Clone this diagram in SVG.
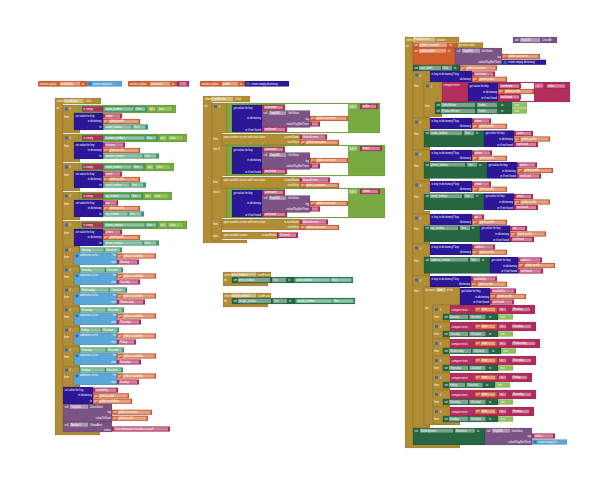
<svg xmlns="http://www.w3.org/2000/svg" width="598" height="478" viewBox="0 0 598 478">
<style>
rect,path{stroke:#000;stroke-opacity:.18;stroke-width:.5}
.bg{fill:#fff;stroke:none}
.c{fill:#b18e35}.v{fill:#d05f2d}.d{fill:#2d1799}.l{fill:#77ab41}.l2{fill:#8fc15d}.p{fill:#b32d5e}.s{fill:#266643}.g{fill:#439970}.b{fill:#5ba6d6}.m{fill:#7c5385}
.w{fill:#fff;stroke:none}
.f{fill:#fff;fill-opacity:.4;stroke:none}
.i{fill:#3d6bb3;stroke:none}
text{font-family:"Liberation Sans",Arial,sans-serif;font-size:2.6px;fill:#fff}
.e{text-anchor:end}
</style>
<rect class="bg" width="598" height="478"/>

<!-- global initializers -->
<g id="init-availability">
<rect class="v" x="38" y="81" width="49" height="5.5" rx="1"/>
<text x="39.5" y="84.7">initialize global</text>
<rect class="f" x="60" y="81.8" width="20" height="3.8"/><text x="61" y="84.7">availability</text>
<text x="82" y="84.7">to</text>
<rect class="b" x="87" y="81" width="35" height="5.5"/>
<rect class="i" x="88.5" y="82.2" width="3" height="3"/>
<text x="93" y="84.7">create empty list</text>
</g>
<g id="init-username">
<rect class="v" x="128" y="81" width="49" height="5.5" rx="1"/>
<text x="129.5" y="84.7">initialize global</text>
<rect class="f" x="150" y="81.8" width="20" height="3.8"/><text x="151" y="84.7">username</text>
<text x="172" y="84.7">to</text>
<rect class="p" x="177" y="81" width="12" height="5.5"/>
<rect class="f" x="179.5" y="81.8" width="7" height="3.8"/>
</g>
<g id="init-profile">
<rect class="v" x="200" y="81" width="45" height="5.5" rx="1"/>
<text x="201.5" y="84.7">initialize global</text>
<rect class="f" x="222" y="81.8" width="16" height="3.8"/><text x="223" y="84.7">profile</text>
<text x="240" y="84.7">to</text>
<rect class="d" x="245" y="81" width="44" height="5.5"/>
<rect class="i" x="246.5" y="82.2" width="3" height="3"/>
<text x="251" y="84.7">create empty dictionary</text>
</g>

<!-- SaveButton.Click -->
<g id="save-click">
<path class="c" d="M55 98h46v6h-38v327h37v4h-45z"/>
<text x="57" y="102">when</text>
<rect class="f" x="63.5" y="98.8" width="20" height="4.4"/><text x="64.5" y="102">SaveButton</text>
<text x="85" y="102">.Click</text>
<text x="56.5" y="109">do</text>

<g id="if-name" transform="translate(0,105)">
<path class="c" d="M63 0h17v8h-6v17h6v3h-17z"/><rect class="i" x="65" y="2.5" width="3" height="3"/>
<text x="69.5" y="5">if</text><text x="64" y="13">then</text>
<rect class="l" x="79" y="0" width="97" height="8"/>
<rect class="p" x="82" y="1.5" width="21" height="5"/><text x="83.5" y="4.8">is empty</text>
<rect class="g" x="103" y="1.5" width="44" height="5"/><rect class="f" x="104.5" y="2.3" width="29" height="3.4"/><text x="105.5" y="4.8">name_textbox</text><rect class="f" x="135" y="2.3" width="10" height="3.4"/><text x="136" y="4.8">Text</text>
<rect class="f" x="149" y="2.3" width="6" height="3.4"/><text x="150.5" y="4.8">=</text>
<rect class="l2" x="157" y="1.5" width="15" height="5"/><text x="159" y="4.8">false</text>
<rect class="d" x="74" y="8" width="29" height="17"/>
<text x="75.5" y="11.5">set value for key</text><text class="e" x="101.5" y="17">in dictionary</text><text class="e" x="101.5" y="22.5">to</text>
<rect class="p" x="103" y="8.5" width="19" height="5"/><rect class="f" x="105" y="9.3" width="15" height="3.4"/><text x="106" y="11.8">name</text>
<rect class="v" x="103" y="14" width="37" height="5"/><text x="104" y="17.3">get</text><rect class="f" x="108.5" y="14.8" width="30" height="3.4"/><text x="109.5" y="17.3">global profile</text>
<rect class="g" x="103" y="19.5" width="45" height="5"/><rect class="f" x="104.5" y="20.3" width="27" height="3.4"/><text x="105.5" y="22.8">name_textbox</text><rect class="f" x="133" y="20.3" width="12" height="3.4"/><text x="134" y="22.8">Text</text>
</g>

<g id="if-location" transform="translate(0,134)">
<path class="c" d="M63 0h17v8h-6v17h6v3h-17z"/><rect class="i" x="65" y="2.5" width="3" height="3"/>
<text x="69.5" y="5">if</text><text x="64" y="13">then</text>
<rect class="l" x="79" y="0" width="108" height="8"/>
<rect class="p" x="82" y="1.5" width="21" height="5"/><text x="83.5" y="4.8">is empty</text>
<rect class="g" x="103" y="1.5" width="55" height="5"/><rect class="f" x="104.5" y="2.3" width="40" height="3.4"/><text x="105.5" y="4.8">location_textbox</text><rect class="f" x="146" y="2.3" width="10" height="3.4"/><text x="147" y="4.8">Text</text>
<rect class="f" x="160" y="2.3" width="6" height="3.4"/><text x="161.5" y="4.8">=</text>
<rect class="l2" x="168" y="1.5" width="15" height="5"/><text x="170" y="4.8">false</text>
<rect class="d" x="74" y="8" width="29" height="17"/>
<text x="75.5" y="11.5">set value for key</text><text class="e" x="101.5" y="17">in dictionary</text><text class="e" x="101.5" y="22.5">to</text>
<rect class="p" x="103" y="8.5" width="22" height="5"/><rect class="f" x="105" y="9.3" width="18" height="3.4"/><text x="106" y="11.8">location</text>
<rect class="v" x="103" y="14" width="37" height="5"/><text x="104" y="17.3">get</text><rect class="f" x="108.5" y="14.8" width="30" height="3.4"/><text x="109.5" y="17.3">global profile</text>
<rect class="g" x="103" y="19.5" width="56" height="5"/><rect class="f" x="104.5" y="20.3" width="38" height="3.4"/><text x="105.5" y="22.8">location_textbox</text><rect class="f" x="144" y="20.3" width="12" height="3.4"/><text x="145" y="22.8">Text</text>
</g>

<g id="if-email" transform="translate(0,163)">
<path class="c" d="M63 0h17v8h-6v17h6v3h-17z"/><rect class="i" x="65" y="2.5" width="3" height="3"/>
<text x="69.5" y="5">if</text><text x="64" y="13">then</text>
<rect class="l" x="79" y="0" width="95" height="8"/>
<rect class="p" x="82" y="1.5" width="21" height="5"/><text x="83.5" y="4.8">is empty</text>
<rect class="g" x="103" y="1.5" width="42" height="5"/><rect class="f" x="104.5" y="2.3" width="27" height="3.4"/><text x="105.5" y="4.8">email_textbox</text><rect class="f" x="133" y="2.3" width="10" height="3.4"/><text x="134" y="4.8">Text</text>
<rect class="f" x="147" y="2.3" width="6" height="3.4"/><text x="148.5" y="4.8">=</text>
<rect class="l2" x="155" y="1.5" width="15" height="5"/><text x="157" y="4.8">false</text>
<rect class="d" x="74" y="8" width="29" height="17"/>
<text x="75.5" y="11.5">set value for key</text><text class="e" x="101.5" y="17">in dictionary</text><text class="e" x="101.5" y="22.5">to</text>
<rect class="p" x="103" y="8.5" width="19" height="5"/><rect class="f" x="105" y="9.3" width="15" height="3.4"/><text x="106" y="11.8">email</text>
<rect class="v" x="103" y="14" width="37" height="5"/><text x="104" y="17.3">get</text><rect class="f" x="108.5" y="14.8" width="30" height="3.4"/><text x="109.5" y="17.3">global profile</text>
<rect class="g" x="103" y="19.5" width="43" height="5"/><rect class="f" x="104.5" y="20.3" width="25" height="3.4"/><text x="105.5" y="22.8">email_textbox</text><rect class="f" x="131" y="20.3" width="12" height="3.4"/><text x="132" y="22.8">Text</text>
</g>

<g id="if-zip" transform="translate(0,192)">
<path class="c" d="M63 0h17v8h-6v17h6v3h-17z"/><rect class="i" x="65" y="2.5" width="3" height="3"/>
<text x="69.5" y="5">if</text><text x="64" y="13">then</text>
<rect class="l" x="79" y="0" width="93" height="8"/>
<rect class="p" x="82" y="1.5" width="21" height="5"/><text x="83.5" y="4.8">is empty</text>
<rect class="g" x="103" y="1.5" width="40" height="5"/><rect class="f" x="104.5" y="2.3" width="25" height="3.4"/><text x="105.5" y="4.8">zip_textbox</text><rect class="f" x="131" y="2.3" width="10" height="3.4"/><text x="132" y="4.8">Text</text>
<rect class="f" x="145" y="2.3" width="6" height="3.4"/><text x="146.5" y="4.8">=</text>
<rect class="l2" x="153" y="1.5" width="15" height="5"/><text x="155" y="4.8">false</text>
<rect class="d" x="74" y="8" width="29" height="17"/>
<text x="75.5" y="11.5">set value for key</text><text class="e" x="101.5" y="17">in dictionary</text><text class="e" x="101.5" y="22.5">to</text>
<rect class="p" x="103" y="8.5" width="15" height="5"/><rect class="f" x="105" y="9.3" width="11" height="3.4"/><text x="106" y="11.8">zip</text>
<rect class="v" x="103" y="14" width="37" height="5"/><text x="104" y="17.3">get</text><rect class="f" x="108.5" y="14.8" width="30" height="3.4"/><text x="109.5" y="17.3">global profile</text>
<rect class="g" x="103" y="19.5" width="41" height="5"/><rect class="f" x="104.5" y="20.3" width="23" height="3.4"/><text x="105.5" y="22.8">zip_textbox</text><rect class="f" x="129" y="20.3" width="12" height="3.4"/><text x="130" y="22.8">Text</text>
</g>

<g id="if-phone" transform="translate(0,221)">
<path class="c" d="M63 0h17v8h-6v17h6v3h-17z"/><rect class="i" x="65" y="2.5" width="3" height="3"/>
<text x="69.5" y="5">if</text><text x="64" y="13">then</text>
<rect class="l" x="79" y="0" width="108" height="8"/>
<rect class="p" x="82" y="1.5" width="21" height="5"/><text x="83.5" y="4.8">is empty</text>
<rect class="g" x="103" y="1.5" width="55" height="5"/><rect class="f" x="104.5" y="2.3" width="40" height="3.4"/><text x="105.5" y="4.8">phone_textbox</text><rect class="f" x="146" y="2.3" width="10" height="3.4"/><text x="147" y="4.8">Text</text>
<rect class="f" x="160" y="2.3" width="6" height="3.4"/><text x="161.5" y="4.8">=</text>
<rect class="l2" x="168" y="1.5" width="15" height="5"/><text x="170" y="4.8">false</text>
<rect class="d" x="74" y="8" width="29" height="17"/>
<text x="75.5" y="11.5">set value for key</text><text class="e" x="101.5" y="17">in dictionary</text><text class="e" x="101.5" y="22.5">to</text>
<rect class="p" x="103" y="8.5" width="19" height="5"/><rect class="f" x="105" y="9.3" width="15" height="3.4"/><text x="106" y="11.8">phone</text>
<rect class="v" x="103" y="14" width="37" height="5"/><text x="104" y="17.3">get</text><rect class="f" x="108.5" y="14.8" width="30" height="3.4"/><text x="109.5" y="17.3">global profile</text>
<rect class="g" x="103" y="19.5" width="56" height="5"/><rect class="f" x="104.5" y="20.3" width="38" height="3.4"/><text x="105.5" y="22.8">phone_textbox</text><rect class="f" x="144" y="20.3" width="12" height="3.4"/><text x="145" y="22.8">Text</text>
</g>

<g id="if-monday" transform="translate(0,247)">
<path class="c" d="M63 0h17v6h-6v12h6v2h-17z"/><rect class="i" x="65" y="1.5" width="3" height="3"/>
<text x="69.5" y="4">if</text><text x="64" y="10.5">then</text>
<rect class="g" x="79" y="0.5" width="43" height="5"/><rect class="f" x="80.5" y="1.3" width="23" height="3.4"/><text x="81.5" y="3.8">Monday</text><rect class="f" x="105" y="1.3" width="15" height="3.4"/><text x="106" y="3.8">Checked</text>
<rect class="b" x="74" y="6" width="43" height="12"/><rect class="i" x="75.5" y="7.3" width="3" height="3"/>
<text x="80" y="9.3">add items to list</text><text class="e" x="116" y="9.3">list</text><text class="e" x="116" y="15.5">item</text>
<rect class="v" x="117" y="6.5" width="39" height="5"/><text x="118" y="9.8">get</text><rect class="f" x="122.5" y="7.3" width="32" height="3.4"/><text x="123.5" y="9.8">global availability</text>
<rect class="p" x="117" y="12.5" width="22" height="5"/><rect class="f" x="119" y="13.3" width="18" height="3.4"/><text x="120" y="15.8">Monday</text>
</g>
<g id="if-tuesday" transform="translate(0,267)">
<path class="c" d="M63 0h17v6h-6v12h6v2h-17z"/><rect class="i" x="65" y="1.5" width="3" height="3"/>
<text x="69.5" y="4">if</text><text x="64" y="10.5">then</text>
<rect class="g" x="79" y="0.5" width="44" height="5"/><rect class="f" x="80.5" y="1.3" width="24" height="3.4"/><text x="81.5" y="3.8">Tuesday</text><rect class="f" x="106" y="1.3" width="15" height="3.4"/><text x="107" y="3.8">Checked</text>
<rect class="b" x="74" y="6" width="43" height="12"/><rect class="i" x="75.5" y="7.3" width="3" height="3"/>
<text x="80" y="9.3">add items to list</text><text class="e" x="116" y="9.3">list</text><text class="e" x="116" y="15.5">item</text>
<rect class="v" x="117" y="6.5" width="39" height="5"/><text x="118" y="9.8">get</text><rect class="f" x="122.5" y="7.3" width="32" height="3.4"/><text x="123.5" y="9.8">global availability</text>
<rect class="p" x="117" y="12.5" width="23" height="5"/><rect class="f" x="119" y="13.3" width="19" height="3.4"/><text x="120" y="15.8">Tuesday</text>
</g>
<g id="if-wednesday" transform="translate(0,287)">
<path class="c" d="M63 0h17v6h-6v12h6v2h-17z"/><rect class="i" x="65" y="1.5" width="3" height="3"/>
<text x="69.5" y="4">if</text><text x="64" y="10.5">then</text>
<rect class="g" x="79" y="0.5" width="48" height="5"/><rect class="f" x="80.5" y="1.3" width="28" height="3.4"/><text x="81.5" y="3.8">Wednesday</text><rect class="f" x="110" y="1.3" width="15" height="3.4"/><text x="111" y="3.8">Checked</text>
<rect class="b" x="74" y="6" width="43" height="12"/><rect class="i" x="75.5" y="7.3" width="3" height="3"/>
<text x="80" y="9.3">add items to list</text><text class="e" x="116" y="9.3">list</text><text class="e" x="116" y="15.5">item</text>
<rect class="v" x="117" y="6.5" width="39" height="5"/><text x="118" y="9.8">get</text><rect class="f" x="122.5" y="7.3" width="32" height="3.4"/><text x="123.5" y="9.8">global availability</text>
<rect class="p" x="117" y="12.5" width="28" height="5"/><rect class="f" x="119" y="13.3" width="24" height="3.4"/><text x="120" y="15.8">Wednesday</text>
</g>
<g id="if-thursday" transform="translate(0,307)">
<path class="c" d="M63 0h17v6h-6v12h6v2h-17z"/><rect class="i" x="65" y="1.5" width="3" height="3"/>
<text x="69.5" y="4">if</text><text x="64" y="10.5">then</text>
<rect class="g" x="79" y="0.5" width="45" height="5"/><rect class="f" x="80.5" y="1.3" width="25" height="3.4"/><text x="81.5" y="3.8">Thursday</text><rect class="f" x="107" y="1.3" width="15" height="3.4"/><text x="108" y="3.8">Checked</text>
<rect class="b" x="74" y="6" width="43" height="12"/><rect class="i" x="75.5" y="7.3" width="3" height="3"/>
<text x="80" y="9.3">add items to list</text><text class="e" x="116" y="9.3">list</text><text class="e" x="116" y="15.5">item</text>
<rect class="v" x="117" y="6.5" width="39" height="5"/><text x="118" y="9.8">get</text><rect class="f" x="122.5" y="7.3" width="32" height="3.4"/><text x="123.5" y="9.8">global availability</text>
<rect class="p" x="117" y="12.5" width="24" height="5"/><rect class="f" x="119" y="13.3" width="20" height="3.4"/><text x="120" y="15.8">Thursday</text>
</g>
<g id="if-friday" transform="translate(0,327)">
<path class="c" d="M63 0h17v6h-6v12h6v2h-17z"/><rect class="i" x="65" y="1.5" width="3" height="3"/>
<text x="69.5" y="4">if</text><text x="64" y="10.5">then</text>
<rect class="g" x="79" y="0.5" width="40" height="5"/><rect class="f" x="80.5" y="1.3" width="20" height="3.4"/><text x="81.5" y="3.8">Friday</text><rect class="f" x="102" y="1.3" width="15" height="3.4"/><text x="103" y="3.8">Checked</text>
<rect class="b" x="74" y="6" width="43" height="12"/><rect class="i" x="75.5" y="7.3" width="3" height="3"/>
<text x="80" y="9.3">add items to list</text><text class="e" x="116" y="9.3">list</text><text class="e" x="116" y="15.5">item</text>
<rect class="v" x="117" y="6.5" width="39" height="5"/><text x="118" y="9.8">get</text><rect class="f" x="122.5" y="7.3" width="32" height="3.4"/><text x="123.5" y="9.8">global availability</text>
<rect class="p" x="117" y="12.5" width="19" height="5"/><rect class="f" x="119" y="13.3" width="15" height="3.4"/><text x="120" y="15.8">Friday</text>
</g>
<g id="if-saturday" transform="translate(0,347)">
<path class="c" d="M63 0h17v6h-6v12h6v2h-17z"/><rect class="i" x="65" y="1.5" width="3" height="3"/>
<text x="69.5" y="4">if</text><text x="64" y="10.5">then</text>
<rect class="g" x="79" y="0.5" width="45" height="5"/><rect class="f" x="80.5" y="1.3" width="25" height="3.4"/><text x="81.5" y="3.8">Saturday</text><rect class="f" x="107" y="1.3" width="15" height="3.4"/><text x="108" y="3.8">Checked</text>
<rect class="b" x="74" y="6" width="43" height="12"/><rect class="i" x="75.5" y="7.3" width="3" height="3"/>
<text x="80" y="9.3">add items to list</text><text class="e" x="116" y="9.3">list</text><text class="e" x="116" y="15.5">item</text>
<rect class="v" x="117" y="6.5" width="39" height="5"/><text x="118" y="9.8">get</text><rect class="f" x="122.5" y="7.3" width="32" height="3.4"/><text x="123.5" y="9.8">global availability</text>
<rect class="p" x="117" y="12.5" width="24" height="5"/><rect class="f" x="119" y="13.3" width="20" height="3.4"/><text x="120" y="15.8">Saturday</text>
</g>
<g id="if-sunday" transform="translate(0,367)">
<path class="c" d="M63 0h17v6h-6v12h6v2h-17z"/><rect class="i" x="65" y="1.5" width="3" height="3"/>
<text x="69.5" y="4">if</text><text x="64" y="10.5">then</text>
<rect class="g" x="79" y="0.5" width="44" height="5"/><rect class="f" x="80.5" y="1.3" width="24" height="3.4"/><text x="81.5" y="3.8">Sunday</text><rect class="f" x="106" y="1.3" width="15" height="3.4"/><text x="107" y="3.8">Checked</text>
<rect class="b" x="74" y="6" width="43" height="12"/><rect class="i" x="75.5" y="7.3" width="3" height="3"/>
<text x="80" y="9.3">add items to list</text><text class="e" x="116" y="9.3">list</text><text class="e" x="116" y="15.5">item</text>
<rect class="v" x="117" y="6.5" width="39" height="5"/><text x="118" y="9.8">get</text><rect class="f" x="122.5" y="7.3" width="32" height="3.4"/><text x="123.5" y="9.8">global availability</text>
<rect class="p" x="117" y="12.5" width="22" height="5"/><rect class="f" x="119" y="13.3" width="18" height="3.4"/><text x="120" y="15.8">Sunday</text>
</g>

<g id="set-availability">
<rect class="d" x="63" y="387" width="30" height="17"/>
<text x="64.5" y="390.5">set value for key</text><text class="e" x="92" y="396.3">in dictionary</text><text class="e" x="92" y="402">to</text>
<rect class="p" x="93" y="387.7" width="25" height="5"/><rect class="f" x="95" y="388.5" width="21" height="3.4"/><text x="96" y="391">availability</text>
<rect class="v" x="93" y="393.3" width="36" height="5"/><text x="94" y="396.6">get</text><rect class="f" x="98.5" y="394.1" width="29" height="3.4"/><text x="99.5" y="396.6">global profile</text>
<rect class="v" x="93" y="398.8" width="39" height="5"/><text x="94" y="402.1">get</text><rect class="f" x="98.5" y="399.6" width="32" height="3.4"/><text x="99.5" y="402.1">global availability</text>
</g>
<g id="store-value">
<rect class="m" x="63" y="404" width="49" height="18"/>
<text x="64.5" y="407.8">call</text><rect class="f" x="70" y="404.8" width="18" height="4"/><text x="71" y="407.8">TinyDB1</text><text x="89.5" y="407.8">.StoreValue</text>
<text class="e" x="111" y="413.3">tag</text><text class="e" x="111" y="419.3">valueToStore</text>
<rect class="v" x="112" y="409.8" width="40" height="5"/><text x="113" y="413.1">get</text><rect class="f" x="117.5" y="410.6" width="33" height="3.4"/><text x="118.5" y="413.1">global username</text>
<rect class="v" x="112" y="415.8" width="36" height="5"/><text x="113" y="419.1">get</text><rect class="f" x="117.5" y="416.6" width="29" height="3.4"/><text x="118.5" y="419.1">global profile</text>
</g>
<g id="show-alert">
<rect class="m" x="63" y="422" width="49" height="10"/>
<text x="64.5" y="425.6">call</text><rect class="f" x="70" y="422.7" width="18" height="4"/><text x="71" y="425.6">Notifier1</text><text x="89.5" y="425.6">.ShowAlert</text>
<text class="e" x="111" y="430.6">notice</text>
<rect class="p" x="112" y="426.5" width="58" height="5"/><rect class="f" x="114" y="427.3" width="54" height="3.4"/><text x="115" y="429.8">Your information has been saved!</text>
</g>
</g>

<!-- LoginButton.Click -->
<g id="login-click">
<path class="c" d="M203 96h47v6h-38v138h35v3h-44z"/>
<text x="205" y="100">when</text>
<rect class="f" x="211" y="96.8" width="22" height="4.4"/><text x="212" y="100">LoginButton</text>
<text x="235" y="100">.Click</text>
<text x="204.5" y="107">do</text>
<path class="c" d="M212 103h15v30h-5v12h5v31h-5v12h5v30h-5v22h-10z"/>
<rect class="i" x="214" y="105" width="3" height="3"/>
<text x="219" y="108">if</text>
<text x="213" y="139.5">then</text><text x="213" y="150">else if</text>
<text x="213" y="182.5">then</text><text x="213" y="193">else if</text>
<text x="213" y="224.5">then</text><text x="213" y="236.5">else</text>

<g id="cmp-seller" transform="translate(0,103)">
<rect class="l" x="227" y="0" width="153" height="30"/>
<rect class="w" x="285" y="1" width="63" height="28"/>
<rect class="d" x="232" y="2" width="30" height="27"/>
<text x="233.5" y="5.5">get value for key</text><text class="e" x="261" y="16">in dictionary</text><text class="e" x="261" y="27.5">or if not found</text>
<rect class="p" x="262" y="2" width="23" height="5"/><rect class="f" x="264" y="2.8" width="19" height="3.4"/><text x="265" y="5.3">username</text>
<rect class="m" x="262" y="7.5" width="48" height="17"/>
<text x="263.5" y="11">call</text><rect class="f" x="269" y="8.3" width="17" height="3.6"/><text x="270" y="11">TinyDB1</text><text x="287.5" y="11">.GetValue</text>
<text class="e" x="309" y="16.8">tag</text><text class="e" x="309" y="22.3">valueIfTagNotThere</text>
<rect class="v" x="310" y="13" width="38" height="5"/><text x="311" y="16.3">get</text><rect class="f" x="315.5" y="13.8" width="31" height="3.4"/><text x="316.5" y="16.3">global username</text>
<rect class="p" x="310" y="18.5" width="10" height="5"/><rect class="f" x="312" y="19.3" width="6" height="3.4"/>
<rect class="p" x="262" y="24" width="25" height="5"/><rect class="f" x="264" y="24.8" width="21" height="3.4"/><text x="265" y="27.3">not found</text>
<rect class="f" x="349" y="1.5" width="8" height="4"/><text x="351.5" y="4.5">=</text>
<rect class="p" x="360" y="1" width="18" height="5"/><rect class="f" x="362" y="1.8" width="14" height="3.4"/><text x="363" y="4.3">seller</text>
</g>
<g id="cmp-buyer" transform="translate(0,145)">
<rect class="l" x="227" y="0" width="158" height="31"/>
<rect class="w" x="285" y="1" width="63" height="29"/>
<rect class="d" x="232" y="2" width="30" height="27"/>
<text x="233.5" y="5.5">get value for key</text><text class="e" x="261" y="16">in dictionary</text><text class="e" x="261" y="27.5">or if not found</text>
<rect class="p" x="262" y="2" width="23" height="5"/><rect class="f" x="264" y="2.8" width="19" height="3.4"/><text x="265" y="5.3">username</text>
<rect class="m" x="262" y="7.5" width="48" height="17"/>
<text x="263.5" y="11">call</text><rect class="f" x="269" y="8.3" width="17" height="3.6"/><text x="270" y="11">TinyDB1</text><text x="287.5" y="11">.GetValue</text>
<text class="e" x="309" y="16.8">tag</text><text class="e" x="309" y="22.3">valueIfTagNotThere</text>
<rect class="v" x="310" y="13" width="38" height="5"/><text x="311" y="16.3">get</text><rect class="f" x="315.5" y="13.8" width="31" height="3.4"/><text x="316.5" y="16.3">global username</text>
<rect class="p" x="310" y="18.5" width="10" height="5"/><rect class="f" x="312" y="19.3" width="6" height="3.4"/>
<rect class="p" x="262" y="24" width="25" height="5"/><rect class="f" x="264" y="24.8" width="21" height="3.4"/><text x="265" y="27.3">not found</text>
<rect class="f" x="349" y="1.5" width="8" height="4"/><text x="351.5" y="4.5">=</text>
<rect class="p" x="360" y="1" width="22" height="5"/><rect class="f" x="362" y="1.8" width="18" height="3.4"/><text x="363" y="4.3">buyer</text>
</g>
<g id="cmp-admin" transform="translate(0,188)">
<rect class="l" x="227" y="0" width="158" height="30"/>
<rect class="w" x="285" y="1" width="63" height="28"/>
<rect class="d" x="232" y="2" width="30" height="27"/>
<text x="233.5" y="5.5">get value for key</text><text class="e" x="261" y="16">in dictionary</text><text class="e" x="261" y="27.5">or if not found</text>
<rect class="p" x="262" y="2" width="23" height="5"/><rect class="f" x="264" y="2.8" width="19" height="3.4"/><text x="265" y="5.3">username</text>
<rect class="m" x="262" y="7.5" width="48" height="17"/>
<text x="263.5" y="11">call</text><rect class="f" x="269" y="8.3" width="17" height="3.6"/><text x="270" y="11">TinyDB1</text><text x="287.5" y="11">.GetValue</text>
<text class="e" x="309" y="16.8">tag</text><text class="e" x="309" y="22.3">valueIfTagNotThere</text>
<rect class="v" x="310" y="13" width="38" height="5"/><text x="311" y="16.3">get</text><rect class="f" x="315.5" y="13.8" width="31" height="3.4"/><text x="316.5" y="16.3">global username</text>
<rect class="p" x="310" y="18.5" width="10" height="5"/><rect class="f" x="312" y="19.3" width="6" height="3.4"/>
<rect class="p" x="262" y="24" width="25" height="5"/><rect class="f" x="264" y="24.8" width="21" height="3.4"/><text x="265" y="27.3">not found</text>
<rect class="f" x="349" y="1.5" width="8" height="4"/><text x="351.5" y="4.5">=</text>
<rect class="p" x="360" y="1" width="20" height="5"/><rect class="f" x="362" y="1.8" width="16" height="3.4"/><text x="363" y="4.3">admin</text>
</g>

<g id="open-seller" transform="translate(0,134)">
<rect class="c" x="222" y="0" width="78" height="11"/>
<text x="223.5" y="3.8">open another screen with start value</text><text class="e" x="299" y="3.8">screenName</text><text class="e" x="299" y="9.3">startValue</text>
<rect class="p" x="300" y="0.5" width="27" height="5"/><rect class="f" x="302" y="1.3" width="23" height="3.4"/><text x="303" y="3.8">SellerScreen</text>
<rect class="v" x="300" y="6" width="39" height="5"/><text x="301" y="9.3">get</text><rect class="f" x="305.5" y="6.8" width="32" height="3.4"/><text x="306.5" y="9.3">global username</text>
</g>
<g id="open-buyer" transform="translate(0,177)">
<rect class="c" x="222" y="0" width="78" height="11"/>
<text x="223.5" y="3.8">open another screen with start value</text><text class="e" x="299" y="3.8">screenName</text><text class="e" x="299" y="9.3">startValue</text>
<rect class="p" x="300" y="0.5" width="30" height="5"/><rect class="f" x="302" y="1.3" width="26" height="3.4"/><text x="303" y="3.8">BuyerScreen</text>
<rect class="v" x="300" y="6" width="39" height="5"/><text x="301" y="9.3">get</text><rect class="f" x="305.5" y="6.8" width="32" height="3.4"/><text x="306.5" y="9.3">global username</text>
</g>
<g id="open-admin" transform="translate(0,219)">
<rect class="c" x="222" y="0" width="78" height="11"/>
<text x="223.5" y="3.8">open another screen with start value</text><text class="e" x="299" y="3.8">screenName</text><text class="e" x="299" y="9.3">startValue</text>
<rect class="p" x="300" y="0.5" width="28" height="5"/><rect class="f" x="302" y="1.3" width="24" height="3.4"/><text x="303" y="3.8">AdminScreen</text>
<rect class="v" x="300" y="6" width="39" height="5"/><text x="301" y="9.3">get</text><rect class="f" x="305.5" y="6.8" width="32" height="3.4"/><text x="306.5" y="9.3">global username</text>
</g>
<g id="open-screen1">
<rect class="c" x="222" y="232" width="56" height="7"/>
<text x="223.5" y="236.3">open another screen</text><text class="e" x="276.5" y="236.3">screenName</text>
<rect class="p" x="277" y="232.5" width="21" height="5.5"/><rect class="f" x="279" y="233.4" width="17" height="3.6"/><text x="280" y="236.1">Screen1</text>
</g>
</g>

<!-- LostFocus handlers -->
<g id="price-lostfocus">
<path class="c" d="M223 272h48v5h-39v6h36v3h-45z"/>
<text x="224.5" y="275.8">when</text>
<rect class="f" x="231" y="272.6" width="25" height="3.8"/><text x="232" y="275.5">price_textbox</text>
<text x="257.5" y="275.8">.LostFocus</text>
<text x="224" y="281">do</text>
<rect class="s" x="232" y="277" width="121" height="6"/>
<text x="233.5" y="281">set</text>
<rect class="f" x="238" y="277.8" width="32" height="4.4"/><text x="239" y="281">price_textbox</text>
<rect class="f" x="272" y="277.8" width="14" height="4.4"/><text x="273" y="281">Text</text>
<text x="288" y="281">to</text>
<rect class="g" x="294" y="277.5" width="59" height="5"/>
<rect class="f" x="295.5" y="278.3" width="34" height="3.4"/><text x="296.5" y="280.8">price_textbox</text>
<rect class="f" x="331" y="278.3" width="20" height="3.4"/><text x="332" y="280.8">Text</text>
</g>
<g id="weight-lostfocus" transform="translate(0,21)">
<path class="c" d="M223 272h48v5h-39v6h36v3h-45z"/>
<text x="224.5" y="275.8">when</text>
<rect class="f" x="231" y="272.6" width="25" height="3.8"/><text x="232" y="275.5">weight_textbox</text>
<text x="257.5" y="275.8">.LostFocus</text>
<text x="224" y="281">do</text>
<rect class="s" x="232" y="277" width="123" height="6"/>
<text x="233.5" y="281">set</text>
<rect class="f" x="238" y="277.8" width="33" height="4.4"/><text x="239" y="281">weight_textbox</text>
<rect class="f" x="273" y="277.8" width="14" height="4.4"/><text x="274" y="281">Text</text>
<text x="289" y="281">to</text>
<rect class="g" x="295" y="277.5" width="60" height="5"/>
<rect class="f" x="296.5" y="278.3" width="35" height="3.4"/><text x="297.5" y="280.8">weight_textbox</text>
<rect class="f" x="333" y="278.3" width="20" height="3.4"/><text x="334" y="280.8">Text</text>
</g>

<!-- standalone call -->
<g id="clear-all">
<rect class="m" x="513" y="37" width="44" height="6"/>
<text x="514.5" y="41">call</text>
<rect class="f" x="520" y="37.8" width="20" height="4.4"/><text x="521" y="41">TinyDB1</text>
<text x="541.5" y="41">.ClearAll</text>
</g>

<!-- ProfileScreen.Initialize -->
<g id="profile-initialize">
<path class="c" d="M405 37h54v5h-46v402h47v4h-55z"/>
<text x="406.5" y="40.5">when</text>
<rect class="f" x="413" y="37.6" width="22" height="3.8"/><text x="414" y="40.3">ProfileScreen</text>
<text x="436" y="40.5">.Initialize</text>
<text x="406" y="46.5">do</text>

<rect class="v" x="413" y="42.5" width="44" height="5.5"/>
<text x="414.5" y="46">set</text><rect class="f" x="419" y="43.2" width="28" height="4"/><text x="420" y="46">global username</text><text x="449.5" y="46">to</text>
<rect class="c" x="457" y="42.5" width="26" height="5.5"/><text x="458.5" y="46">get start value</text>

<rect class="v" x="413" y="48" width="42" height="17"/>
<text x="414.5" y="51.5">set</text><rect class="f" x="419" y="48.8" width="27" height="4"/><text x="420" y="51.5">global profile</text><text x="448" y="51.5">to</text>
<rect class="m" x="455" y="48" width="47" height="17"/>
<text x="456.5" y="51.5">call</text><rect class="f" x="462" y="48.8" width="18" height="4"/><text x="463" y="51.5">TinyDB1</text><text x="481" y="51.5">.GetValue</text>
<text class="e" x="501" y="57.5">tag</text><text class="e" x="501" y="63">valueIfTagNotThere</text>
<rect class="v" x="502" y="54" width="38" height="5"/><text x="503" y="57.3">get</text><rect class="f" x="507.5" y="54.8" width="31" height="3.4"/><text x="508.5" y="57.3">global username</text>
<rect class="d" x="502" y="59.8" width="44" height="5"/><rect class="i" x="503.5" y="60.8" width="3" height="3"/><text x="508" y="63.1">create empty dictionary</text>

<rect class="s" x="413" y="65" width="47" height="6"/>
<text x="414.5" y="69">set</text><rect class="f" x="419" y="65.8" width="22" height="4.4"/><text x="420" y="69">user_label</text>
<rect class="f" x="442" y="65.8" width="10" height="4.4"/><text x="443" y="69">Text</text><text x="454" y="69">to</text>
<rect class="v" x="460" y="65.5" width="37" height="5"/><text x="461" y="68.8">get</text><rect class="f" x="465.5" y="66.3" width="30" height="3.4"/><text x="466.5" y="68.8">global username</text>

<!-- if username -->
<g id="if-key-username" transform="translate(0,71)">
<path class="c" d="M413 0h17v11h-6v33h6v3h-17z"/><rect class="i" x="415" y="2.5" width="3" height="3"/>
<text x="420" y="5.5">if</text><text x="414" y="15.5">then</text>
<rect class="d" x="430" y="0" width="42" height="11"/>
<text x="431.5" y="3.8">is key in dictionary? key</text><text class="e" x="471" y="9.3">dictionary</text>
<rect class="p" x="472" y="0.5" width="23" height="5"/><rect class="f" x="474" y="1.3" width="19" height="3.4"/><text x="475" y="3.8">username</text>
<rect class="v" x="472" y="5.8" width="35" height="5"/><text x="473" y="9.1">get</text><rect class="f" x="478.5" y="6.6" width="27" height="3.4"/><text x="479.5" y="9.1">global profile</text>
</g>
<g id="if-seller" transform="translate(0,82)">
<path class="c" d="M424 0h18v20h-7v12h7v3h-18z"/><rect class="i" x="426" y="2.5" width="3" height="3"/>
<text x="431" y="5.5">if</text><text x="425" y="24.5">then</text>
<rect class="p" x="442" y="0" width="128" height="20"/>
<text x="443.5" y="3.8">compare texts</text>
<rect class="w" x="520" y="1" width="14" height="18"/>
<rect class="d" x="468" y="1" width="30" height="18"/>
<text x="469.5" y="4.5">get value for key</text><text class="e" x="497" y="10.5">in dictionary</text><text class="e" x="497" y="16.5">or if not found</text>
<rect class="p" x="498" y="1.5" width="23" height="5"/><rect class="f" x="500" y="2.3" width="19" height="3.4"/><text x="501" y="4.8">username</text>
<rect class="v" x="498" y="7" width="36" height="5"/><text x="499" y="10.3">get</text><rect class="f" x="504.5" y="7.8" width="28" height="3.4"/><text x="505.5" y="10.3">global profile</text>
<rect class="p" x="498" y="12.5" width="23" height="5"/><rect class="f" x="500" y="13.3" width="19" height="3.4"/><text x="501" y="15.8">not found</text>
<rect class="f" x="535" y="1.7" width="8" height="4"/><text x="537.5" y="4.7">=</text>
<rect class="p" x="545" y="1.5" width="22" height="5"/><rect class="f" x="547" y="2.3" width="18" height="3.4"/><text x="548" y="4.8">seller</text>
<rect class="s" x="435" y="20" width="77" height="6"/>
<text x="436.5" y="24">set</text><rect class="f" x="441" y="20.8" width="34" height="4.4"/><text x="442" y="24">SellerButton</text>
<rect class="f" x="477" y="20.8" width="20" height="4.4"/><text x="478" y="24">Visible</text><text x="501" y="24">to</text>
<rect class="l2" x="512" y="20.5" width="15" height="5"/><text x="514.5" y="23.8">true</text>
<rect class="s" x="435" y="26" width="77" height="6"/>
<text x="436.5" y="30">set</text><rect class="f" x="441" y="26.8" width="34" height="4.4"/><text x="442" y="30">ProductsButton</text>
<rect class="f" x="477" y="26.8" width="20" height="4.4"/><text x="478" y="30">Visible</text><text x="501" y="30">to</text>
<rect class="l2" x="512" y="26.5" width="15" height="5"/><text x="514.5" y="29.8">true</text>
</g>

<!-- if name -->
<g id="if-key-name" transform="translate(0,118)">
<path class="c" d="M413 0h17v12h-6v17h6v3h-17z"/><rect class="i" x="415" y="2.5" width="3" height="3"/>
<text x="420" y="5.5">if</text><text x="414" y="16.5">then</text>
<rect class="d" x="430" y="0" width="42" height="11"/>
<text x="431.5" y="3.8">is key in dictionary? key</text><text class="e" x="471" y="9.3">dictionary</text>
<rect class="p" x="472" y="0.5" width="19" height="5"/><rect class="f" x="474" y="1.3" width="15" height="3.4"/><text x="475" y="3.8">name</text>
<rect class="v" x="472" y="5.8" width="35" height="5"/><text x="473" y="9.1">get</text><rect class="f" x="478.5" y="6.6" width="27" height="3.4"/><text x="479.5" y="9.1">global profile</text>
<g transform="translate(0,12.5)">
<rect class="s" x="424" y="0" width="60" height="16.5"/>
<text x="425.5" y="3.6">set</text><rect class="f" x="430" y="0.8" width="32" height="3.8"/><text x="431" y="3.6">name_textbox</text>
<rect class="f" x="464" y="0.8" width="10" height="3.8"/><text x="465" y="3.6">Text</text><text x="476" y="3.6">to</text>
<rect class="d" x="484" y="0" width="30" height="16.5"/>
<text x="485.5" y="3.6">get value for key</text><text class="e" x="513" y="9.5">in dictionary</text><text class="e" x="513" y="15">or if not found</text>
<rect class="p" x="514" y="0.5" width="19" height="5"/><rect class="f" x="516" y="1.3" width="15" height="3.4"/><text x="517" y="3.8">name</text>
<rect class="v" x="514" y="6" width="36" height="5"/><text x="515" y="9.3">get</text><rect class="f" x="520.5" y="6.8" width="28" height="3.4"/><text x="521.5" y="9.3">global profile</text>
<rect class="p" x="514" y="11.5" width="24" height="5"/><rect class="f" x="516" y="12.3" width="20" height="3.4"/><text x="517" y="14.8">not found</text>
</g>
</g>

<!-- if phone -->
<g id="if-key-phone" transform="translate(0,150)">
<path class="c" d="M413 0h17v12h-6v16h6v3h-17z"/><rect class="i" x="415" y="2.5" width="3" height="3"/>
<text x="420" y="5.5">if</text><text x="414" y="16.5">then</text>
<rect class="d" x="430" y="0" width="42" height="11"/>
<text x="431.5" y="3.8">is key in dictionary? key</text><text class="e" x="471" y="9.3">dictionary</text>
<rect class="p" x="472" y="0.5" width="20" height="5"/><rect class="f" x="474" y="1.3" width="16" height="3.4"/><text x="475" y="3.8">phone</text>
<rect class="v" x="472" y="5.8" width="35" height="5"/><text x="473" y="9.1">get</text><rect class="f" x="478.5" y="6.6" width="27" height="3.4"/><text x="479.5" y="9.1">global profile</text>
<g transform="translate(0,12)">
<rect class="s" x="424" y="0" width="63" height="16.5"/>
<text x="425.5" y="3.6">set</text><rect class="f" x="430" y="0.8" width="35" height="3.8"/><text x="431" y="3.6">phone_textbox</text>
<rect class="f" x="467" y="0.8" width="10" height="3.8"/><text x="468" y="3.6">Text</text><text x="479" y="3.6">to</text>
<rect class="d" x="487" y="0" width="30" height="16.5"/>
<text x="488.5" y="3.6">get value for key</text><text class="e" x="516" y="9.5">in dictionary</text><text class="e" x="516" y="15">or if not found</text>
<rect class="p" x="517" y="0.5" width="20" height="5"/><rect class="f" x="519" y="1.3" width="16" height="3.4"/><text x="520" y="3.8">phone</text>
<rect class="v" x="517" y="6" width="36" height="5"/><text x="518" y="9.3">get</text><rect class="f" x="523.5" y="6.8" width="28" height="3.4"/><text x="524.5" y="9.3">global profile</text>
<rect class="p" x="517" y="11.5" width="24" height="5"/><rect class="f" x="519" y="12.3" width="20" height="3.4"/><text x="520" y="14.8">not found</text>
</g>
</g>

<!-- if email -->
<g id="if-key-email" transform="translate(0,181)">
<path class="c" d="M413 0h17v12h-6v18h6v3h-17z"/><rect class="i" x="415" y="2.5" width="3" height="3"/>
<text x="420" y="5.5">if</text><text x="414" y="16.5">then</text>
<rect class="d" x="430" y="0" width="42" height="11"/>
<text x="431.5" y="3.8">is key in dictionary? key</text><text class="e" x="471" y="9.3">dictionary</text>
<rect class="p" x="472" y="0.5" width="19" height="5"/><rect class="f" x="474" y="1.3" width="15" height="3.4"/><text x="475" y="3.8">email</text>
<rect class="v" x="472" y="5.8" width="35" height="5"/><text x="473" y="9.1">get</text><rect class="f" x="478.5" y="6.6" width="27" height="3.4"/><text x="479.5" y="9.1">global profile</text>
<g transform="translate(0,12.5)">
<rect class="s" x="424" y="0" width="60" height="16.5"/>
<text x="425.5" y="3.6">set</text><rect class="f" x="430" y="0.8" width="32" height="3.8"/><text x="431" y="3.6">email_textbox</text>
<rect class="f" x="464" y="0.8" width="10" height="3.8"/><text x="465" y="3.6">Text</text><text x="476" y="3.6">to</text>
<rect class="d" x="484" y="0" width="30" height="16.5"/>
<text x="485.5" y="3.6">get value for key</text><text class="e" x="513" y="9.5">in dictionary</text><text class="e" x="513" y="15">or if not found</text>
<rect class="p" x="514" y="0.5" width="19" height="5"/><rect class="f" x="516" y="1.3" width="15" height="3.4"/><text x="517" y="3.8">email</text>
<rect class="v" x="514" y="6" width="36" height="5"/><text x="515" y="9.3">get</text><rect class="f" x="520.5" y="6.8" width="28" height="3.4"/><text x="521.5" y="9.3">global profile</text>
<rect class="p" x="514" y="11.5" width="24" height="5"/><rect class="f" x="516" y="12.3" width="20" height="3.4"/><text x="517" y="14.8">not found</text>
</g>
</g>

<!-- if zip -->
<g id="if-key-zip" transform="translate(0,214)">
<path class="c" d="M413 0h17v11h-6v16h6v3h-17z"/><rect class="i" x="415" y="2.5" width="3" height="3"/>
<text x="420" y="5.5">if</text><text x="414" y="15.5">then</text>
<rect class="d" x="430" y="0" width="42" height="11"/>
<text x="431.5" y="3.8">is key in dictionary? key</text><text class="e" x="471" y="9.3">dictionary</text>
<rect class="p" x="472" y="0.5" width="12" height="5"/><rect class="f" x="474" y="1.3" width="8" height="3.4"/><text x="474.5" y="3.8">zip</text>
<rect class="v" x="472" y="5.8" width="35" height="5"/><text x="473" y="9.1">get</text><rect class="f" x="478.5" y="6.6" width="27" height="3.4"/><text x="479.5" y="9.1">global profile</text>
<g transform="translate(0,11.5)">
<rect class="s" x="424" y="0" width="56" height="16.5"/>
<text x="425.5" y="3.6">set</text><rect class="f" x="430" y="0.8" width="28" height="3.8"/><text x="431" y="3.6">zip_textbox</text>
<rect class="f" x="460" y="0.8" width="10" height="3.8"/><text x="461" y="3.6">Text</text><text x="472" y="3.6">to</text>
<rect class="d" x="480" y="0" width="30" height="16.5"/>
<text x="481.5" y="3.6">get value for key</text><text class="e" x="509" y="9.5">in dictionary</text><text class="e" x="509" y="15">or if not found</text>
<rect class="p" x="510" y="0.5" width="17" height="5"/><rect class="f" x="512" y="1.3" width="13" height="3.4"/><text x="513" y="3.8">zip</text>
<rect class="v" x="510" y="6" width="36" height="5"/><text x="511" y="9.3">get</text><rect class="f" x="516.5" y="6.8" width="28" height="3.4"/><text x="517.5" y="9.3">global profile</text>
<rect class="p" x="510" y="11.5" width="24" height="5"/><rect class="f" x="512" y="12.3" width="20" height="3.4"/><text x="513" y="14.8">not found</text>
</g>
</g>

<!-- if address -->
<g id="if-key-address" transform="translate(0,244)">
<path class="c" d="M413 0h17v13h-6v16h6v3h-17z"/><rect class="i" x="415" y="2.5" width="3" height="3"/>
<text x="420" y="5.5">if</text><text x="414" y="17.5">then</text>
<rect class="d" x="430" y="0" width="42" height="11"/>
<text x="431.5" y="3.8">is key in dictionary? key</text><text class="e" x="471" y="9.3">dictionary</text>
<rect class="p" x="472" y="0.5" width="23" height="5"/><rect class="f" x="474" y="1.3" width="19" height="3.4"/><text x="475" y="3.8">address</text>
<rect class="v" x="472" y="5.8" width="35" height="5"/><text x="473" y="9.1">get</text><rect class="f" x="478.5" y="6.6" width="27" height="3.4"/><text x="479.5" y="9.1">global profile</text>
<g transform="translate(0,13)">
<rect class="s" x="424" y="0" width="66" height="16.5"/>
<text x="425.5" y="3.6">set</text><rect class="f" x="430" y="0.8" width="38" height="3.8"/><text x="431" y="3.6">address_textbox</text>
<rect class="f" x="470" y="0.8" width="10" height="3.8"/><text x="471" y="3.6">Text</text><text x="482" y="3.6">to</text>
<rect class="d" x="490" y="0" width="28" height="16.5"/>
<text x="491.5" y="3.6">get value for key</text><text class="e" x="517" y="9.5">in dictionary</text><text class="e" x="517" y="15">or if not found</text>
<rect class="p" x="518" y="0.5" width="24" height="5"/><rect class="f" x="520" y="1.3" width="20" height="3.4"/><text x="521" y="3.8">address</text>
<rect class="v" x="518" y="6" width="37" height="5"/><text x="519" y="9.3">get</text><rect class="f" x="524.5" y="6.8" width="29" height="3.4"/><text x="525.5" y="9.3">global profile</text>
<rect class="p" x="518" y="11.5" width="25" height="5"/><rect class="f" x="520" y="12.3" width="21" height="3.4"/><text x="521" y="14.8">not found</text>
</g>
</g>

<!-- if availability -->
<g id="if-key-availability" transform="translate(0,276)">
<path class="c" d="M413 0h17v11h-6v138h6v3h-17z"/><rect class="i" x="415" y="2.5" width="3" height="3"/>
<text x="420" y="5.5">if</text><text x="414" y="15.5">then</text>
<rect class="d" x="430" y="0" width="41" height="11"/>
<text x="431.5" y="3.8">is key in dictionary? key</text><text class="e" x="470" y="9.3">dictionary</text>
<rect class="p" x="471" y="0.5" width="26" height="5"/><rect class="f" x="473" y="1.3" width="22" height="3.4"/><text x="474" y="3.8">availability</text>
<rect class="v" x="471" y="5.8" width="36" height="5"/><text x="472" y="9.1">get</text><rect class="f" x="477.5" y="6.6" width="28" height="3.4"/><text x="478.5" y="9.1">global profile</text>
</g>
<g id="for-each-day" transform="translate(0,287)">
<path class="c" d="M424 0h36v18h-27v117h27v3h-36z"/>
<text x="425.5" y="4">for each</text><rect class="f" x="436.5" y="1" width="9" height="3.6"/><text x="437.3" y="3.8">item</text><text x="447" y="4">in list</text>
<text x="425.5" y="22">do</text>
<rect class="d" x="460" y="1" width="30" height="17"/>
<text x="461.5" y="4.5">get value for key</text><text class="e" x="489" y="10.5">in dictionary</text><text class="e" x="489" y="16.3">or if not found</text>
<rect class="p" x="490" y="1.5" width="26" height="5"/><rect class="f" x="492" y="2.3" width="22" height="3.4"/><text x="493" y="4.8">availability</text>
<rect class="v" x="490" y="7" width="36" height="5"/><text x="491" y="10.3">get</text><rect class="f" x="496.5" y="7.8" width="28" height="3.4"/><text x="497.5" y="10.3">global profile</text>
<rect class="p" x="490" y="12.5" width="24" height="5"/><rect class="f" x="492" y="13.3" width="20" height="3.4"/><text x="493" y="15.8">not found</text>
</g>

<g id="day-monday" transform="translate(0,305)">
<path class="c" d="M433 0h17v9h-7v6h7v2h-17z"/><rect class="i" x="435" y="3" width="3" height="3"/>
<text x="440" y="5.8">if</text><text x="434" y="13.3">then</text>
<rect class="p" x="450" y="0" width="85" height="9"/><text x="451.5" y="5.6">compare texts</text>
<rect class="v" x="475" y="2" width="22" height="5"/><text x="476" y="5.3">get</text><rect class="f" x="481" y="2.8" width="14" height="3.4"/><text x="482" y="5.3">item</text>
<rect class="f" x="499" y="2.8" width="7" height="3.4"/><text x="501" y="5.3">=</text>
<rect class="p" x="510" y="2" width="22" height="5"/><rect class="f" x="512" y="2.8" width="18" height="3.4"/><text x="513" y="5.3">Monday</text>
<rect class="s" x="443" y="9" width="55" height="6"/><text x="444.5" y="13">set</text>
<rect class="f" x="449" y="9.8" width="19" height="4.4"/><text x="450" y="13">Monday</text><rect class="f" x="469.5" y="9.8" width="16" height="4.4"/><text x="470.5" y="13">Checked</text><text x="489" y="13">to</text>
<rect class="l2" x="498" y="9.5" width="15" height="5"/><text x="500.5" y="12.8">true</text>
</g>
<g id="day-tuesday" transform="translate(0,322)">
<path class="c" d="M433 0h17v9h-7v6h7v2h-17z"/><rect class="i" x="435" y="3" width="3" height="3"/>
<text x="440" y="5.8">if</text><text x="434" y="13.3">then</text>
<rect class="p" x="450" y="0" width="86" height="9"/><text x="451.5" y="5.6">compare texts</text>
<rect class="v" x="475" y="2" width="22" height="5"/><text x="476" y="5.3">get</text><rect class="f" x="481" y="2.8" width="14" height="3.4"/><text x="482" y="5.3">item</text>
<rect class="f" x="499" y="2.8" width="7" height="3.4"/><text x="501" y="5.3">=</text>
<rect class="p" x="510" y="2" width="23" height="5"/><rect class="f" x="512" y="2.8" width="19" height="3.4"/><text x="513" y="5.3">Tuesday</text>
<rect class="s" x="443" y="9" width="55" height="6"/><text x="444.5" y="13">set</text>
<rect class="f" x="449" y="9.8" width="19" height="4.4"/><text x="450" y="13">Tuesday</text><rect class="f" x="469.5" y="9.8" width="16" height="4.4"/><text x="470.5" y="13">Checked</text><text x="489" y="13">to</text>
<rect class="l2" x="498" y="9.5" width="15" height="5"/><text x="500.5" y="12.8">true</text>
</g>
<g id="day-wednesday" transform="translate(0,339)">
<path class="c" d="M433 0h17v9h-7v6h7v2h-17z"/><rect class="i" x="435" y="3" width="3" height="3"/>
<text x="440" y="5.8">if</text><text x="434" y="13.3">then</text>
<rect class="p" x="450" y="0" width="90" height="9"/><text x="451.5" y="5.6">compare texts</text>
<rect class="v" x="475" y="2" width="22" height="5"/><text x="476" y="5.3">get</text><rect class="f" x="481" y="2.8" width="14" height="3.4"/><text x="482" y="5.3">item</text>
<rect class="f" x="499" y="2.8" width="7" height="3.4"/><text x="501" y="5.3">=</text>
<rect class="p" x="510" y="2" width="27" height="5"/><rect class="f" x="512" y="2.8" width="23" height="3.4"/><text x="513" y="5.3">Wednesday</text>
<rect class="s" x="443" y="9" width="58" height="6"/><text x="444.5" y="13">set</text>
<rect class="f" x="449" y="9.8" width="22" height="4.4"/><text x="450" y="13">Wednesday</text><rect class="f" x="472.5" y="9.8" width="16" height="4.4"/><text x="473.5" y="13">Checked</text><text x="492" y="13">to</text>
<rect class="l2" x="501" y="9.5" width="15" height="5"/><text x="503.5" y="12.8">true</text>
</g>
<g id="day-thursday" transform="translate(0,356)">
<path class="c" d="M433 0h17v9h-7v6h7v2h-17z"/><rect class="i" x="435" y="3" width="3" height="3"/>
<text x="440" y="5.8">if</text><text x="434" y="13.3">then</text>
<rect class="p" x="450" y="0" width="86" height="9"/><text x="451.5" y="5.6">compare texts</text>
<rect class="v" x="475" y="2" width="22" height="5"/><text x="476" y="5.3">get</text><rect class="f" x="481" y="2.8" width="14" height="3.4"/><text x="482" y="5.3">item</text>
<rect class="f" x="499" y="2.8" width="7" height="3.4"/><text x="501" y="5.3">=</text>
<rect class="p" x="510" y="2" width="23" height="5"/><rect class="f" x="512" y="2.8" width="19" height="3.4"/><text x="513" y="5.3">Thursday</text>
<rect class="s" x="443" y="9" width="55" height="6"/><text x="444.5" y="13">set</text>
<rect class="f" x="449" y="9.8" width="19" height="4.4"/><text x="450" y="13">Thursday</text><rect class="f" x="469.5" y="9.8" width="16" height="4.4"/><text x="470.5" y="13">Checked</text><text x="489" y="13">to</text>
<rect class="l2" x="498" y="9.5" width="15" height="5"/><text x="500.5" y="12.8">true</text>
</g>
<g id="day-friday" transform="translate(0,373)">
<path class="c" d="M433 0h17v9h-7v6h7v2h-17z"/><rect class="i" x="435" y="3" width="3" height="3"/>
<text x="440" y="5.8">if</text><text x="434" y="13.3">then</text>
<rect class="p" x="450" y="0" width="82" height="9"/><text x="451.5" y="5.6">compare texts</text>
<rect class="v" x="475" y="2" width="22" height="5"/><text x="476" y="5.3">get</text><rect class="f" x="481" y="2.8" width="14" height="3.4"/><text x="482" y="5.3">item</text>
<rect class="f" x="499" y="2.8" width="7" height="3.4"/><text x="501" y="5.3">=</text>
<rect class="p" x="510" y="2" width="19" height="5"/><rect class="f" x="512" y="2.8" width="15" height="3.4"/><text x="513" y="5.3">Friday</text>
<rect class="s" x="443" y="9" width="52" height="6"/><text x="444.5" y="13">set</text>
<rect class="f" x="449" y="9.8" width="16" height="4.4"/><text x="450" y="13">Friday</text><rect class="f" x="466.5" y="9.8" width="16" height="4.4"/><text x="467.5" y="13">Checked</text><text x="486" y="13">to</text>
<rect class="l2" x="495" y="9.5" width="15" height="5"/><text x="497.5" y="12.8">true</text>
</g>
<g id="day-saturday" transform="translate(0,390)">
<path class="c" d="M433 0h17v9h-7v6h7v2h-17z"/><rect class="i" x="435" y="3" width="3" height="3"/>
<text x="440" y="5.8">if</text><text x="434" y="13.3">then</text>
<rect class="p" x="450" y="0" width="86" height="9"/><text x="451.5" y="5.6">compare texts</text>
<rect class="v" x="475" y="2" width="22" height="5"/><text x="476" y="5.3">get</text><rect class="f" x="481" y="2.8" width="14" height="3.4"/><text x="482" y="5.3">item</text>
<rect class="f" x="499" y="2.8" width="7" height="3.4"/><text x="501" y="5.3">=</text>
<rect class="p" x="510" y="2" width="23" height="5"/><rect class="f" x="512" y="2.8" width="19" height="3.4"/><text x="513" y="5.3">Saturday</text>
<rect class="s" x="443" y="9" width="55" height="6"/><text x="444.5" y="13">set</text>
<rect class="f" x="449" y="9.8" width="19" height="4.4"/><text x="450" y="13">Saturday</text><rect class="f" x="469.5" y="9.8" width="16" height="4.4"/><text x="470.5" y="13">Checked</text><text x="489" y="13">to</text>
<rect class="l2" x="498" y="9.5" width="15" height="5"/><text x="500.5" y="12.8">true</text>
</g>
<g id="day-sunday" transform="translate(0,407)">
<path class="c" d="M433 0h17v9h-7v6h7v2h-17z"/><rect class="i" x="435" y="3" width="3" height="3"/>
<text x="440" y="5.8">if</text><text x="434" y="13.3">then</text>
<rect class="p" x="450" y="0" width="84" height="9"/><text x="451.5" y="5.6">compare texts</text>
<rect class="v" x="475" y="2" width="22" height="5"/><text x="476" y="5.3">get</text><rect class="f" x="481" y="2.8" width="14" height="3.4"/><text x="482" y="5.3">item</text>
<rect class="f" x="499" y="2.8" width="7" height="3.4"/><text x="501" y="5.3">=</text>
<rect class="p" x="510" y="2" width="21" height="5"/><rect class="f" x="512" y="2.8" width="17" height="3.4"/><text x="513" y="5.3">Sunday</text>
<rect class="s" x="443" y="9" width="55" height="6"/><text x="444.5" y="13">set</text>
<rect class="f" x="449" y="9.8" width="19" height="4.4"/><text x="450" y="13">Sunday</text><rect class="f" x="469.5" y="9.8" width="16" height="4.4"/><text x="470.5" y="13">Checked</text><text x="489" y="13">to</text>
<rect class="l2" x="498" y="9.5" width="15" height="5"/><text x="500.5" y="12.8">true</text>
</g>

<g id="set-sellers">
<rect class="s" x="413" y="428" width="72" height="17"/>
<text x="414.5" y="431.6">set</text><rect class="f" x="420" y="428.8" width="33" height="3.8"/><text x="421" y="431.6">SellerSpinner</text>
<rect class="f" x="455" y="428.8" width="20" height="3.8"/><text x="456" y="431.6">Elements</text><text x="477" y="431.6">to</text>
<rect class="m" x="485" y="428" width="47" height="17"/>
<text x="486.5" y="431.6">call</text><rect class="f" x="492" y="428.8" width="18" height="3.8"/><text x="493" y="431.6">TinyDB1</text><text x="511" y="431.6">.GetValue</text>
<text class="e" x="531" y="437">tag</text><text class="e" x="531" y="443">valueIfTagNotThere</text>
<rect class="p" x="532" y="433.5" width="23" height="5"/><rect class="f" x="534" y="434.3" width="19" height="3.4"/><text x="535" y="436.8">sellers</text>
<rect class="b" x="532" y="439.5" width="35" height="5"/><rect class="i" x="533.5" y="440.5" width="3" height="3"/><text x="538" y="442.8">create empty list</text>
</g>
</g>
</svg>
